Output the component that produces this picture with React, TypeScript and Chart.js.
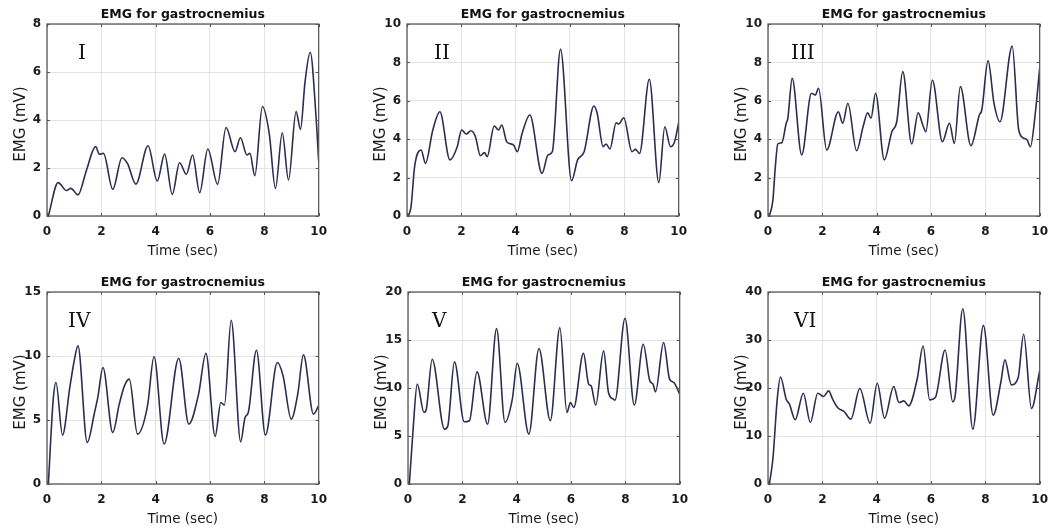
import { useEffect, useRef } from 'react';
import { Chart, registerables } from 'chart.js';

Chart.register(...registerables);

// ---- Data (time in sec, EMG in mV) ----
const t1 = [0.05, 0.41, 0.72, 0.88, 1.14, 1.45, 1.79, 1.93, 2.08, 2.42, 2.76, 2.97, 3.27, 3.72, 4.06, 4.33, 4.61, 4.88, 5.13, 5.36, 5.62, 5.92, 6.28, 6.59, 6.92, 7.12, 7.36, 7.47, 7.65, 7.93, 8.18, 8.41, 8.66, 8.89, 9.17, 9.33, 9.5, 9.69, 9.9, 10];
const v1 = [0, 1.39, 1.06, 1.15, 0.88, 1.9, 2.89, 2.57, 2.61, 1.11, 2.43, 2.17, 1.33, 2.93, 1.46, 2.58, 0.9, 2.22, 1.74, 2.54, 0.97, 2.79, 1.32, 3.69, 2.68, 3.26, 2.54, 2.61, 1.68, 4.56, 3.44, 1.15, 3.47, 1.5, 4.35, 3.61, 5.6, 6.82, 4.2, 2.3];

const t2 = [0.05, 0.15, 0.28, 0.52, 0.68, 0.95, 1.21, 1.58, 1.85, 2.01, 2.18, 2.35, 2.52, 2.7, 2.85, 2.95, 3.21, 3.37, 3.49, 3.67, 3.92, 4.06, 4.24, 4.52, 4.97, 5.19, 5.35, 5.65, 6.06, 6.28, 6.52, 6.88, 7.0, 7.22, 7.33, 7.47, 7.7, 7.79, 7.98, 8.28, 8.41, 8.56, 8.92, 9.27, 9.49, 9.7, 9.85, 10];
const v2 = [0, 0.5, 2.57, 3.44, 2.74, 4.48, 5.43, 2.92, 3.61, 4.48, 4.27, 4.44, 4.13, 3.14, 3.3, 3.09, 4.69, 4.48, 4.74, 3.87, 3.7, 3.35, 4.31, 5.26, 2.22, 3.18, 3.35, 8.68, 1.84, 2.92, 3.35, 5.73, 5.35, 3.61, 3.75, 3.49, 4.86, 4.79, 5.12, 3.35, 3.47, 3.26, 7.12, 1.74, 4.65, 3.61, 3.87, 4.86];

const t3 = [0.05, 0.18, 0.27, 0.36, 0.51, 0.67, 0.73, 0.89, 1.24, 1.6, 1.74, 1.86, 2.16, 2.59, 2.75, 2.94, 3.26, 3.5, 3.67, 3.79, 3.96, 4.28, 4.56, 4.74, 4.96, 5.29, 5.53, 5.71, 5.81, 6.05, 6.42, 6.68, 6.86, 7.08, 7.47, 7.78, 7.87, 8.1, 8.32, 8.54, 8.99, 9.23, 9.42, 9.54, 9.66, 9.84, 10];
const v3 = [0, 0.83, 2.57, 3.75, 3.82, 4.83, 5.09, 7.17, 3.18, 6.39, 6.3, 6.65, 3.44, 5.43, 4.83, 5.87, 3.4, 4.65, 5.38, 5.09, 6.39, 2.92, 4.39, 4.91, 7.52, 3.75, 5.38, 4.69, 4.39, 7.08, 3.87, 4.83, 3.78, 6.74, 3.66, 5.26, 5.52, 8.09, 5.87, 4.91, 8.85, 4.48, 4.05, 3.96, 3.61, 5.35, 7.69];

const t4 = [0.05, 0.23, 0.33, 0.57, 0.84, 0.99, 1.14, 1.48, 1.75, 1.87, 2.06, 2.42, 2.66, 2.85, 3.03, 3.33, 3.7, 3.94, 4.31, 4.85, 5.22, 5.58, 5.85, 6.19, 6.4, 6.53, 6.78, 7.13, 7.29, 7.41, 7.71, 8.04, 8.48, 8.69, 8.99, 9.23, 9.44, 9.81, 10];
const v4 = [0, 6.63, 7.93, 3.82, 7.54, 9.49, 10.79, 3.25, 5.59, 6.76, 9.1, 4.03, 6.24, 7.67, 8.19, 3.9, 6.11, 9.96, 3.12, 9.83, 4.68, 7.02, 10.22, 3.72, 6.37, 6.16, 12.79, 3.3, 5.2, 5.59, 10.45, 3.82, 9.49, 8.45, 5.07, 7.02, 10.09, 5.46, 6.11];

const t5 = [0.05, 0.18, 0.34, 0.59, 0.67, 0.89, 1.34, 1.46, 1.71, 2.07, 2.26, 2.54, 2.93, 3.26, 3.57, 3.84, 4.02, 4.45, 4.82, 5.24, 5.59, 5.85, 5.98, 6.1, 6.46, 6.65, 6.74, 6.91, 7.2, 7.38, 7.56, 7.62, 7.99, 8.33, 8.66, 8.9, 9.02, 9.11, 9.41, 9.63, 9.79, 10];
const v5 = [0, 5.37, 10.4, 7.45, 7.73, 13.0, 5.72, 6.0, 12.72, 6.48, 6.59, 11.68, 6.24, 16.19, 6.41, 8.84, 12.58, 5.2, 14.11, 6.59, 16.29, 7.45, 8.49, 7.97, 13.62, 10.4, 10.23, 8.21, 13.87, 9.53, 8.84, 8.73, 17.26, 8.21, 14.56, 10.75, 10.4, 9.6, 14.73, 10.92, 10.57, 9.36];

const t6 = [0.05, 0.18, 0.34, 0.46, 0.67, 0.79, 1.0, 1.3, 1.56, 1.83, 2.05, 2.23, 2.38, 2.56, 2.8, 3.05, 3.38, 3.76, 4.02, 4.29, 4.63, 4.82, 5.0, 5.18, 5.49, 5.71, 5.95, 6.16, 6.52, 6.8, 6.89, 7.17, 7.54, 7.93, 8.29, 8.57, 8.72, 8.96, 9.21, 9.41, 9.7, 10];
const v6 = [0, 5.2, 17.67, 22.3, 17.67, 16.63, 13.37, 18.92, 12.82, 18.92, 18.23, 19.4, 17.67, 15.94, 15.1, 13.51, 19.89, 12.68, 21.0, 13.72, 20.3, 16.98, 17.32, 16.28, 21.83, 28.76, 17.53, 18.02, 27.93, 17.12, 18.36, 36.5, 11.43, 33.05, 14.35, 21.14, 25.85, 20.65, 22.18, 31.19, 15.73, 23.56];

const chartTitle = 'EMG for gastrocnemius';
const xTitle = 'Time (sec)';
const yTitle = 'EMG (mV)';
const romanLabels = ['I', 'II', 'III', 'IV', 'V', 'VI'];
const yMaxes = [8, 10, 10, 15, 20, 40];
const ySteps = [2, 2, 2, 5, 5, 10];
const series = [[t1, v1], [t2, v2], [t3, v3], [t4, v4], [t5, v5], [t6, v6]];

// ---- Layout (plot-area positions on the page) ----
const AREA_LEFTS = [47, 407, 768, 47, 408, 768];
const AREA_TOPS = [24, 24, 24, 292, 292, 292];
const ROMAN_DX = [31, 27, 23, 21, 24, 26];
const Y_AXIS_W = 47;
const X_AXIS_H = 48;
const TOP_PAD = 24;
const RIGHT_PAD = 15;
const PLOT_W = 274;
const PLOT_H = 192;
const CANVAS_W = Y_AXIS_W + PLOT_W + RIGHT_PAD;
const CANVAS_H = TOP_PAD + PLOT_H + X_AXIS_H;

const decoPlugin = {
  id: 'panelDeco',
  afterDraw(chart: any, _args: any, opts: any) {
    const { ctx, chartArea: a, scales } = chart;
    ctx.save();
    // inward tick marks
    ctx.strokeStyle = '#555';
    ctx.lineWidth = 1;
    ctx.beginPath();
    scales.x.ticks.forEach((tk: any) => {
      const px = Math.round(scales.x.getPixelForValue(tk.value)) + 0.5;
      ctx.moveTo(px, a.bottom);
      ctx.lineTo(px, a.bottom - 3);
      ctx.moveTo(px, a.top);
      ctx.lineTo(px, a.top + 3);
    });
    scales.y.ticks.forEach((tk: any) => {
      const py = Math.round(scales.y.getPixelForValue(tk.value)) + 0.5;
      ctx.moveTo(a.left, py);
      ctx.lineTo(a.left + 3, py);
      ctx.moveTo(a.right, py);
      ctx.lineTo(a.right - 3, py);
    });
    ctx.stroke();
    // box
    ctx.strokeStyle = '#5a5a5a';
    ctx.lineWidth = 1.3;
    ctx.strokeRect(a.left, a.top, a.right - a.left, a.bottom - a.top);
    // title
    ctx.fillStyle = '#111';
    ctx.font = 'bold 12.5px "DejaVu Sans"';
    ctx.textAlign = 'center';
    ctx.textBaseline = 'alphabetic';
    ctx.fillText(chartTitle, (a.left + a.right) / 2, a.top - 6);
    // roman numeral
    ctx.font = '20px "DejaVu Serif"';
    ctx.textAlign = 'left';
    ctx.fillText(opts.roman, a.left + opts.dx, a.top + 35);
    // x title
    ctx.font = '13.5px "DejaVu Sans"';
    ctx.textAlign = 'center';
    ctx.fillStyle = '#1a1a1a';
    ctx.fillText(xTitle, (a.left + a.right) / 2, a.bottom + 39);
    // y title
    ctx.font = '15px "DejaVu Sans"';
    ctx.translate(a.left - 26, (a.top + a.bottom) / 2 + 4);
    ctx.rotate(-Math.PI / 2);
    ctx.textBaseline = 'middle';
    ctx.fillText(yTitle, 0, 0);
    ctx.restore();
  },
};

export default function App() {
  const refs = useRef<(HTMLCanvasElement | null)[]>([]);

  useEffect(() => {
    const charts: Chart[] = [];
    series.forEach(([t, v], i) => {
      const cv = refs.current[i];
      if (!cv) return;
      const tickFont = { family: '"DejaVu Sans"', size: 12, weight: 'bold' as const };
      charts.push(
        new Chart(cv, {
          type: 'line',
          data: {
            datasets: [
              {
                data: t.map((x, k) => ({ x, y: v[k] })),
                borderColor: '#2d2d50',
                borderWidth: 1.6,
                pointRadius: 0,
                cubicInterpolationMode: 'monotone',
                fill: false,
              },
            ],
          },
          options: {
            responsive: false,
            animation: false,
            layout: { padding: { top: TOP_PAD, right: RIGHT_PAD, left: 0, bottom: 0 } },
            plugins: {
              legend: { display: false },
              tooltip: { enabled: false },
              panelDeco: { roman: romanLabels[i], dx: ROMAN_DX[i] },
            } as any,
            scales: {
              x: {
                type: 'linear',
                min: 0,
                max: 10,
                ticks: { stepSize: 2, font: tickFont, color: '#1a1a1a', padding: 9, maxRotation: 0 },
                grid: { color: '#e4e4e4', drawTicks: false },
                border: { display: false },
                afterFit: (s: any) => {
                  s.height = X_AXIS_H;
                },
              },
              y: {
                type: 'linear',
                min: 0,
                max: yMaxes[i],
                ticks: { stepSize: ySteps[i], font: tickFont, color: '#1a1a1a', padding: 6 },
                grid: { color: '#e4e4e4', drawTicks: false },
                border: { display: false },
                afterFit: (s: any) => {
                  s.width = Y_AXIS_W;
                },
              },
            },
          },
          plugins: [decoPlugin],
        })
      );
    });
    return () => charts.forEach((c) => c.destroy());
  }, []);

  return (
    <div
      style={{
        position: 'absolute',
        left: 0,
        top: 0,
        width: 1058,
        height: 532,
        overflow: 'hidden',
        background: '#fff',
      }}
    >
      {series.map((_, i) => (
        <canvas
          key={i}
          ref={(el) => {
            refs.current[i] = el;
          }}
          width={CANVAS_W}
          height={CANVAS_H}
          style={{
            position: 'absolute',
            left: AREA_LEFTS[i] - Y_AXIS_W,
            top: AREA_TOPS[i] - TOP_PAD,
            width: CANVAS_W,
            height: CANVAS_H,
          }}
        />
      ))}
    </div>
  );
}
